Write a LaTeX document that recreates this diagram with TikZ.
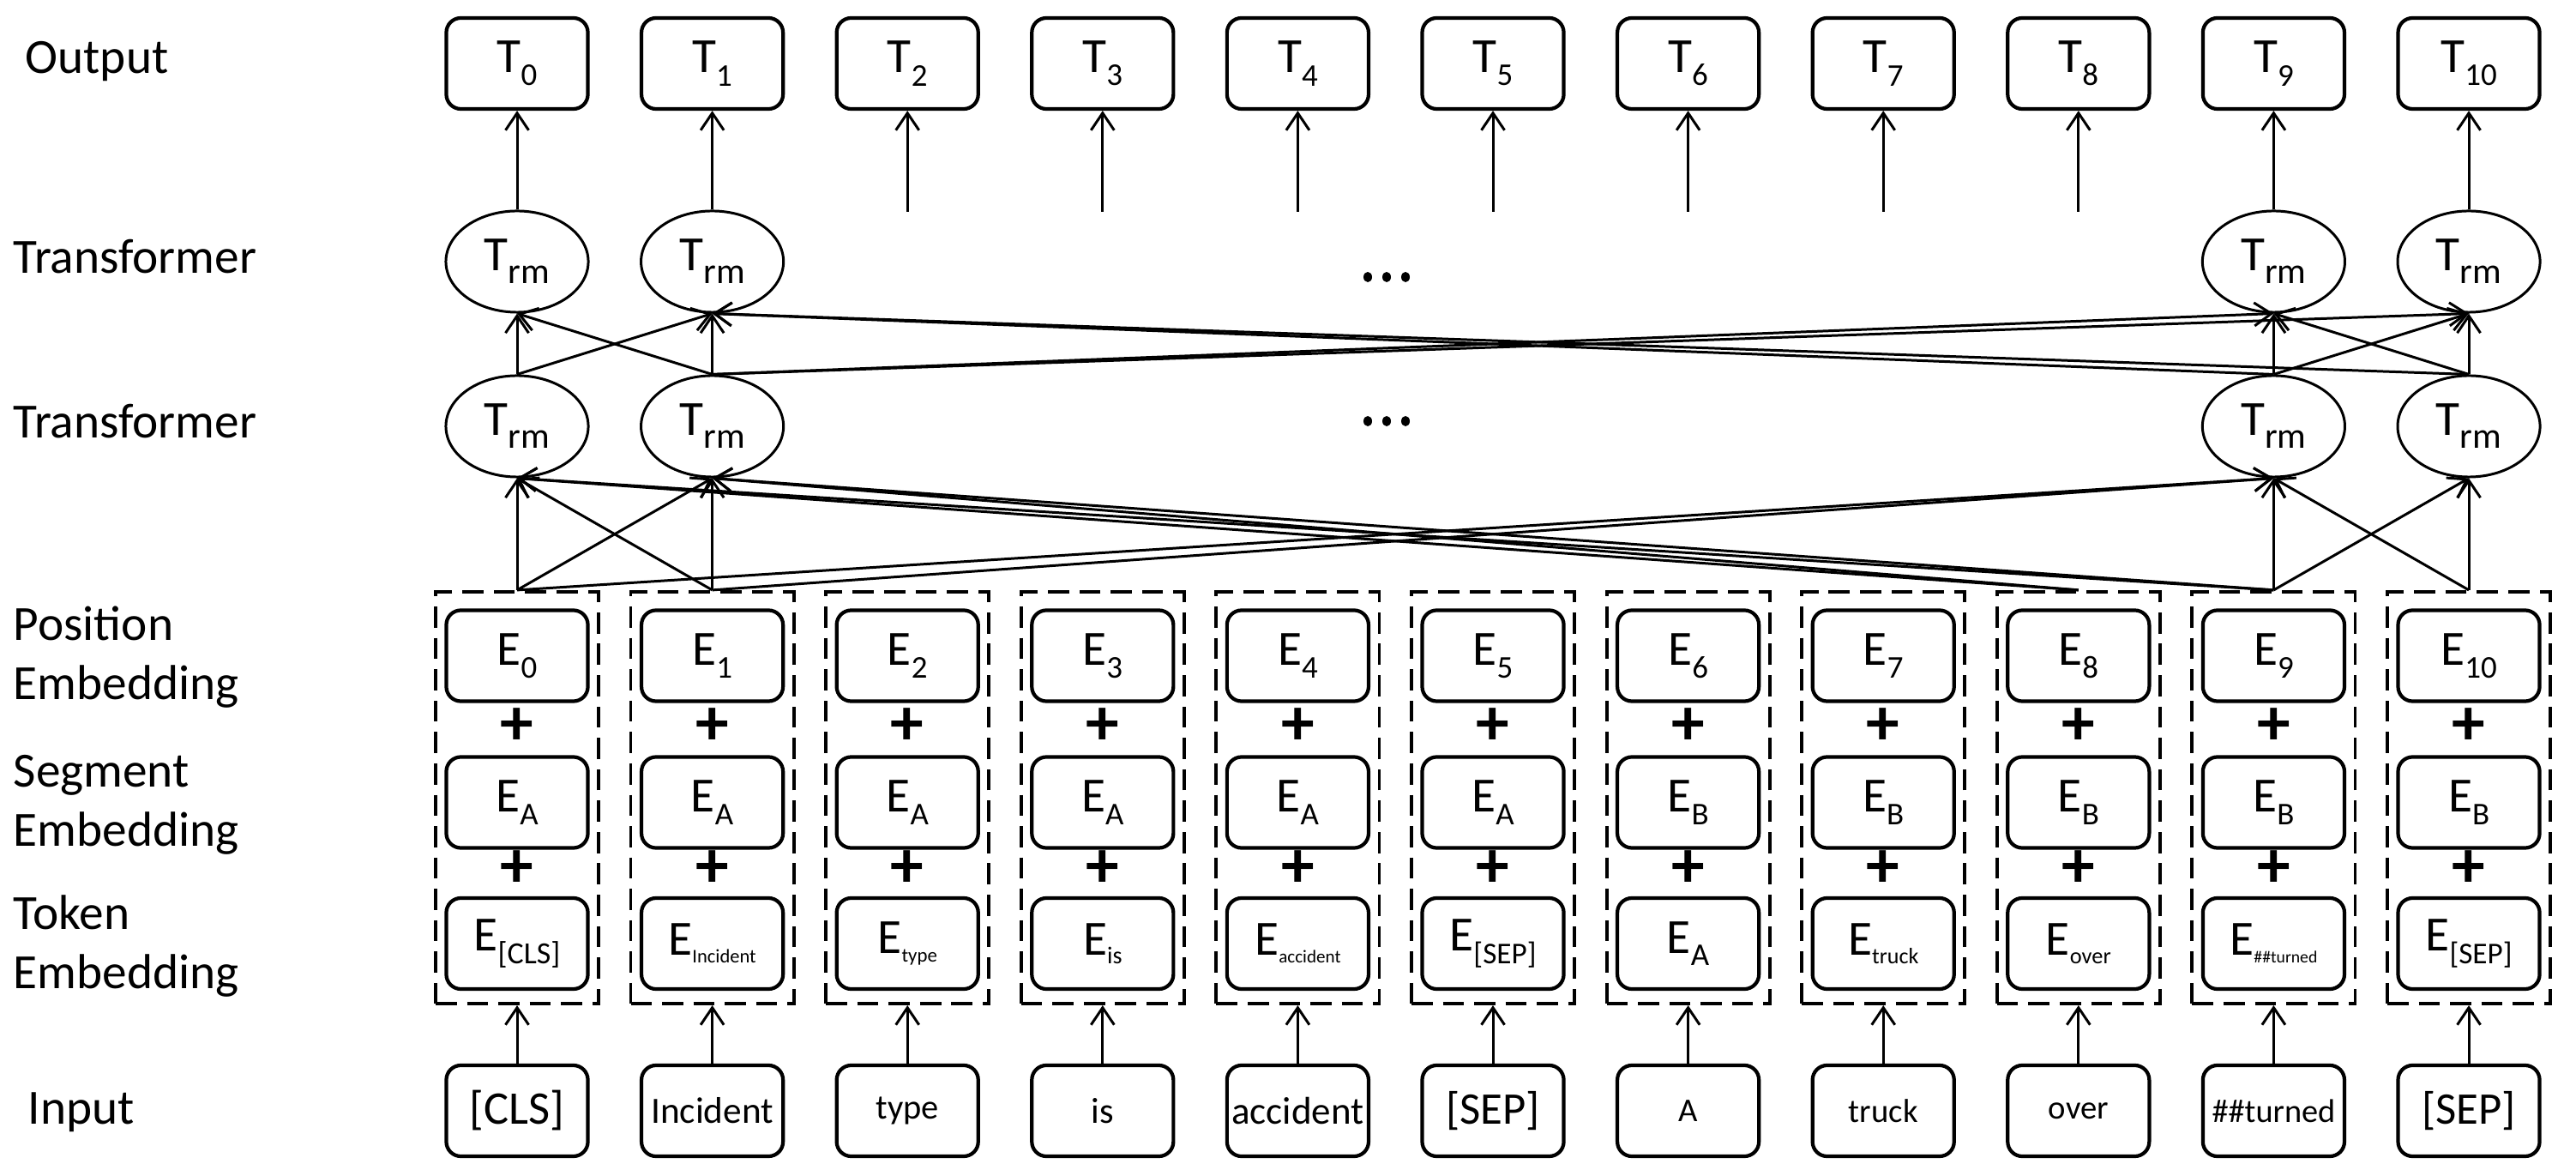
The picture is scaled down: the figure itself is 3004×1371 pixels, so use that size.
\documentclass[tikz,border=0pt]{standalone}
\usepackage{fontspec}
\setmainfont{Carlito}
\usetikzlibrary{shapes.geometric,arrows.meta}
\newcommand{\lo}[3]{\raisebox{-#2}{\fontsize{#1}{#1}\selectfont #3}}
\newcommand{\fs}[1]{\fontsize{#1}{#1}\selectfont}
\begin{document}
\begin{tikzpicture}[x=0.01cm,y=-0.01cm,
  box/.style={draw, rounded corners=0.17cm, minimum width=1.65cm, minimum height=1.06cm, inner sep=0pt, line width=1.2pt, font=\fs{16.3}},
  trm/.style={draw, ellipse, minimum width=1.66cm, minimum height=1.18cm, inner sep=0pt, line width=0.85pt, font=\fs{16.3}},
  dbox/.style={draw, line width=1.1pt, dash pattern=on 7pt off 3.4pt, minimum width=1.9cm, minimum height=4.8cm, inner sep=0pt},
  conn/.style={line width=0.85pt, -{Straight Barb[length=0.2cm,width=0.27cm]}},
  lbl/.style={anchor=west, align=left, font=\fontsize{16.3}{19.7}\selectfont, inner sep=0pt},
  plus/.style={font=\fs{22}\bfseries, inner sep=0pt}
]
\useasboundingbox (0,0) rectangle (3004,1371);

% left labels
\node[lbl] (lout) at (29,72) {Output};
\node[lbl] (ltr1) at (15,299) {Transformer};
\node[lbl] (ltr2) at (15,491) {Transformer};
\node[lbl] (lpos) at (15,766) {Position\\Embedding};
\node[lbl] (lseg) at (15,938) {Segment\\Embedding};
\node[lbl] (ltok) at (15,1103) {Token\\Embedding};
\node[lbl] (linp) at (32,1297) {Input};

% output boxes
\foreach \i in {0,...,10} {
  \pgfmathsetmacro\cx{603+227.6*\i}
  \node[box] (t\i) at (\cx,74) {T\lo{10.5}{4.4pt}{\i}};
}
\foreach \i in {2,...,8} {
  \pgfmathsetmacro\cx{603+227.6*\i}
  \coordinate (c\i) at (\cx,247);
  \draw[conn] (c\i) -- (t\i.south);
}

% transformer nodes
\foreach \i in {0,1,9,10} {
  \pgfmathsetmacro\cx{603+227.6*\i}
  \node[trm] (ut\i) at (\cx,305) {T\lo{12}{4.2pt}{rm}};
  \node[trm] (lt\i) at (\cx,497) {T\lo{12}{4.2pt}{rm}};
  \draw[conn] (ut\i) -- (t\i);
}

% dots
\foreach \yy in {323,491} {
  \foreach \xx in {1595,1617,1639} {
    \fill (\xx,\yy) ellipse [x radius=0.05cm, y radius=0.06cm];
  }
}

% embedding columns and inputs
\foreach \i/\inp/\tk/\sg in {
 0/{\fs{15.5}[CLS]}/{\lo{10.2}{4.2pt}{[CLS]}}/A,
 1/{\fs{12.3}Incident}/{\lo{6.4}{2.6pt}{Incident}}/A,
 2/{\fs{11.5}type}/{\lo{6.5}{2.6pt}{type}}/A,
 3/{\fs{12}is}/{\lo{8}{3pt}{is}}/A,
 4/{\fs{12.8}accident}/{\lo{6}{2.6pt}{accident}}/A,
 5/{\fs{15}[SEP]}/{\lo{10}{4.2pt}{[SEP]}}/A,
 6/{\fs{11}A}/{\lo{10.5}{4.2pt}{A}}/B,
 7/{\fs{11}truck}/{\lo{7.4}{2.9pt}{truck}}/B,
 8/{\fs{11}over}/{\lo{7.5}{2.9pt}{over}}/B,
 9/{\fs{10.9}\#\#turned}/{\lo{5.6}{2.6pt}{\#\#turned}}/B,
 10/{\fs{15}[SEP]}/{\lo{10}{4.2pt}{[SEP]}}/B} {
  \pgfmathsetmacro\cx{603+227.6*\i}
  \node[dbox] (d\i) at (\cx,930) {};
  \node[box] (p\i) at (\cx,764.5) {E\lo{10.5}{4.4pt}{\i}};
  \node[plus] (pa\i) at (\cx,847) {+};
  \node[box] (s\i) at (\cx,935.5) {E\lo{10.5}{4.4pt}{\sg}};
  \node[plus] (pb\i) at (\cx,1013) {+};
  \node[box] (k\i) at (\cx,1100) {E\tk};
  \node[box] (in\i) at (\cx,1295) {\inp};
  \draw[conn] (in\i) -- (d\i);
}

% embeddings -> lower transformer
\foreach \a/\b in {0/0,0/1,0/9,1/1,1/0,1/9,8/0,8/1,9/9,9/10,9/0,9/1,10/10,10/9}
  \draw[conn] (d\a.north) -- (lt\b.south);

% lower -> upper transformer
\foreach \a/\b in {0/0,0/1,1/1,1/0,1/9,1/10,9/9,9/10,9/1,10/10,10/9,10/1}
  \draw[conn] (lt\a.north) -- (ut\b.south);
\end{tikzpicture}
\end{document}
